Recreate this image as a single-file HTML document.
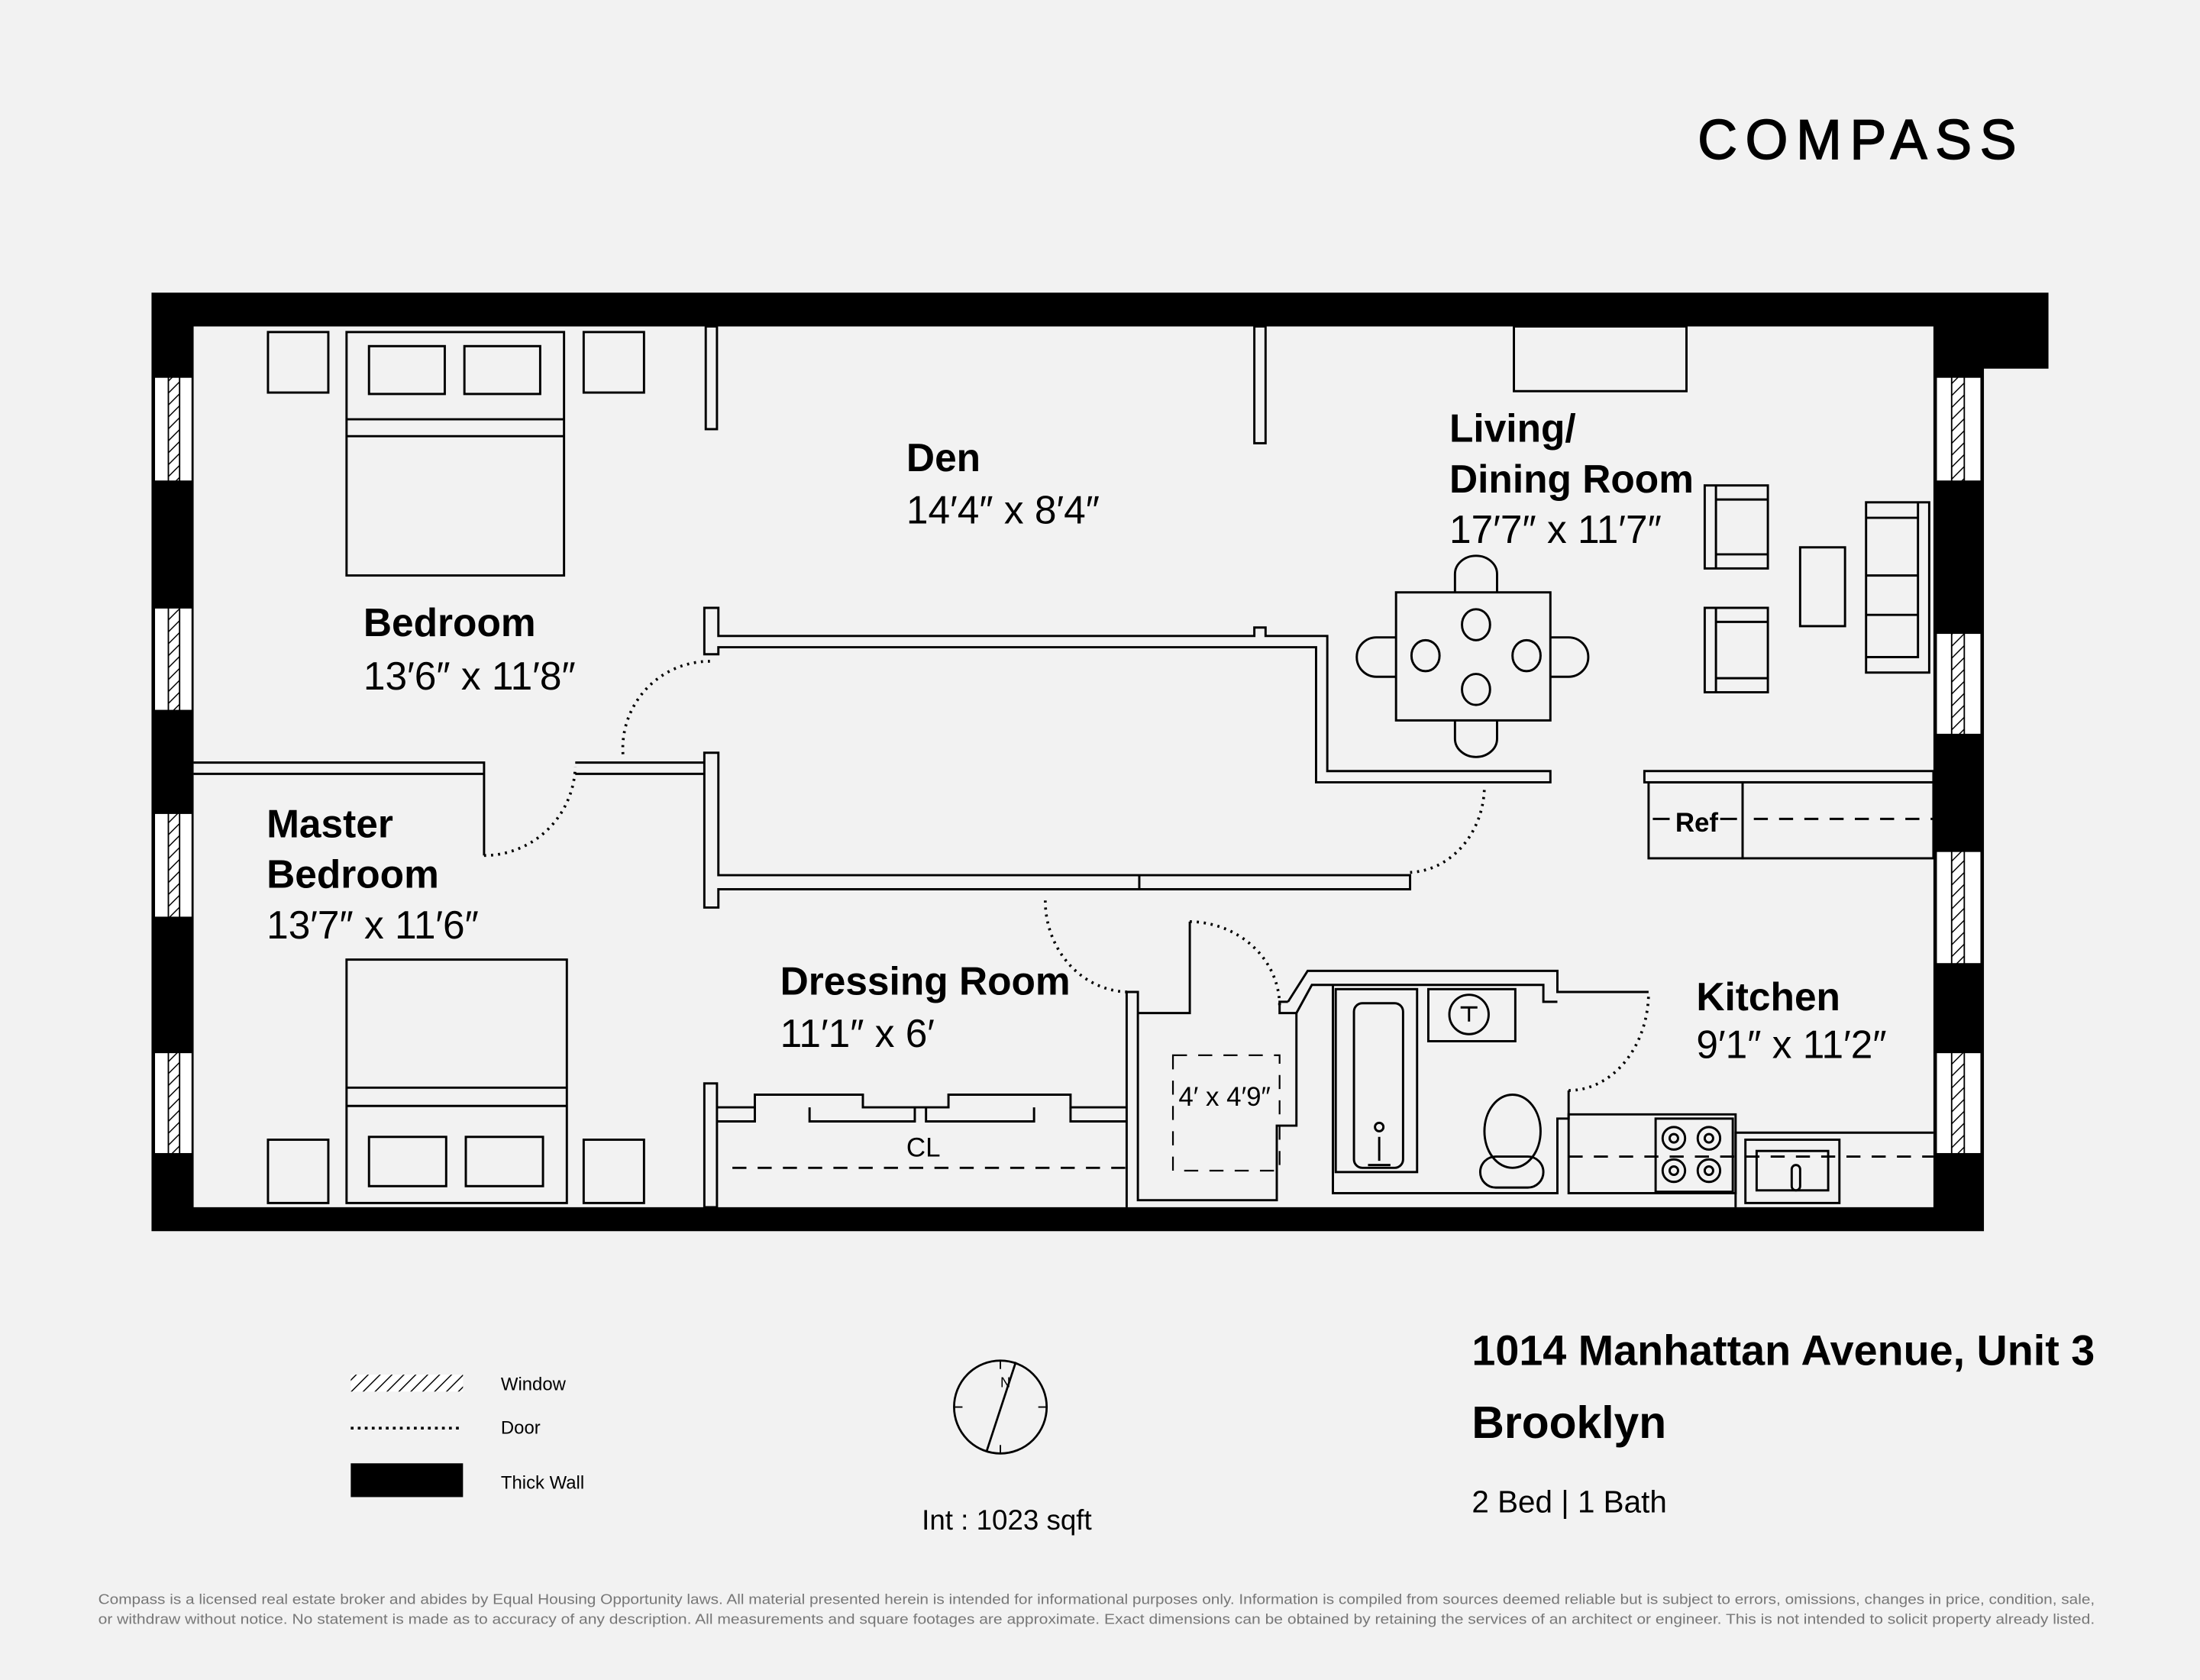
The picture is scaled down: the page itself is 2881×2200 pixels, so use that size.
<!DOCTYPE html>
<html><head><meta charset="utf-8"><style>
html,body{margin:0;padding:0;background:#f2f2f2;}
svg{display:block;}
text{font-family:"Liberation Sans",sans-serif;fill:#000;}
</style></head><body>
<svg width="2881" height="2200" viewBox="0 0 1568 1194" preserveAspectRatio="none" xmlns="http://www.w3.org/2000/svg">
<defs>
<pattern id="h" width="6" height="6" patternUnits="userSpaceOnUse" patternTransform="rotate(45)">
<rect width="6" height="6" fill="#fff"/><line x1="0" y1="0" x2="0" y2="6" stroke="#000" stroke-width="1.6"/></pattern>
</defs>
<rect width="1568" height="1194" fill="#f2f2f2"/>
<text x="1210" y="113" font-size="40" letter-spacing="6" stroke="#000" stroke-width="0.9" textLength="233" lengthAdjust="spacingAndGlyphs">COMPASS</text>

<!-- outer walls -->
<path d="M108 208 H1460 V262 H1414 V875 H108 Z M138 232 V858 H1378 V232 Z" fill="#000" fill-rule="evenodd"/>
<g stroke="#000" stroke-width="1">
<g fill="#fff">
<rect x="110" y="268" width="27" height="74"/><rect x="110" y="432" width="27" height="73"/>
<rect x="110" y="578" width="27" height="74"/><rect x="110" y="748" width="27" height="72"/>
<rect x="1380" y="268" width="32" height="74"/><rect x="1380" y="450" width="32" height="72"/>
<rect x="1380" y="605" width="32" height="80"/><rect x="1380" y="748" width="32" height="72"/>
</g>
<g fill="url(#h)">
<rect x="120" y="268" width="8" height="74"/><rect x="120" y="432" width="8" height="73"/>
<rect x="120" y="578" width="8" height="74"/><rect x="120" y="748" width="8" height="72"/>
<rect x="1391" y="268" width="9" height="74"/><rect x="1391" y="450" width="9" height="72"/>
<rect x="1391" y="605" width="9" height="80"/><rect x="1391" y="748" width="9" height="72"/>
</g>
</g>

<g fill="none" stroke="#000" stroke-width="1.6">
<rect x="503" y="232" width="8" height="73"/><rect x="894" y="232" width="8" height="83"/>
<rect x="1079" y="232" width="123" height="46"/>
<rect x="191" y="236" width="43" height="43"/><rect x="416" y="236" width="43" height="43"/>
<rect x="247" y="236" width="155" height="173"/><line x1="247" y1="298" x2="402" y2="298"/><line x1="247" y1="310" x2="402" y2="310"/>
<rect x="263" y="246" width="54" height="34"/><rect x="331" y="246" width="54" height="34"/>
<rect x="191" y="810" width="43" height="45"/><rect x="416" y="810" width="43" height="45"/>
<rect x="247" y="682" width="157" height="173"/><line x1="247" y1="773" x2="404" y2="773"/><line x1="247" y1="786" x2="404" y2="786"/>
<rect x="263" y="808" width="55" height="35"/><rect x="332" y="808" width="55" height="35"/>
<path d="M502 432 H512 V452 H894 V446 H902 V452 H946 V548 H1105 V556 H938 V460 H512 V465 H502 Z"/>
<path d="M502 535 H512 V622 H1005 V632 H512 V645 H502 Z"/>
<path d="M138 542 H345 V608 M138 550 H345"/>
<path d="M410 542 H502 M410 550 H502"/>
<path d="M812 632 H1005 M812 622 V632"/>
<rect x="995" y="421" width="110" height="91"/>
<path d="M1037 421 V408 A15 13 0 0 1 1067 408 V421"/>
<path d="M1037 512 V525 A15 13 0 0 0 1067 525 V512"/>
<path d="M995 453 H981 A14 14 0 0 0 981 481 H995"/>
<path d="M1105 453 H1118 A14 14 0 0 1 1118 481 H1105"/>
<ellipse cx="1052" cy="444" rx="10" ry="11"/><ellipse cx="1016" cy="466" rx="10" ry="11"/>
<ellipse cx="1088" cy="466" rx="10" ry="11"/><ellipse cx="1052" cy="490" rx="10" ry="11"/>
<rect x="1215" y="345" width="45" height="59"/><line x1="1223" y1="345" x2="1223" y2="404"/><line x1="1223" y1="355" x2="1260" y2="355"/><line x1="1223" y1="394" x2="1260" y2="394"/>
<rect x="1215" y="432" width="45" height="60"/><line x1="1223" y1="432" x2="1223" y2="492"/><line x1="1223" y1="442" x2="1260" y2="442"/><line x1="1223" y1="482" x2="1260" y2="482"/>
<rect x="1283" y="389" width="32" height="56"/>
<rect x="1330" y="357" width="45" height="121"/><path d="M1330 467 H1367 V357 M1330 368 H1367 M1330 409 H1367 M1330 437 H1367"/>
<rect x="1172" y="548" width="206" height="8"/>
<rect x="1175" y="556" width="67" height="54"/><rect x="1242" y="556" width="136" height="54"/>
<line x1="1250" y1="582" x2="1378" y2="582" stroke-dasharray="10 8"/>
<line x1="1178" y1="582" x2="1190" y2="582"/><line x1="1226" y1="582" x2="1238" y2="582"/>
<rect x="502" y="770" width="9" height="88"/>
<path d="M511 787 H538 V778 H615 V787 H676 V778 H763 V787 H803"/>
<path d="M511 797 H538 V787 M577 787 V797 H652 V787 M660 787 V797 H737 V787 M763 787 V797 H803"/>
<line x1="522" y1="830" x2="803" y2="830" stroke-dasharray="10 8"/>
<path d="M803 858 V705 H811 V720 H848 V655 M811 720 V853 H910 V800 H924 V720 H912 V712 H918 M811 705 H803"/>
<rect x="836" y="750" width="76" height="82" stroke-dasharray="10 8" stroke-width="1.2"/>
<path d="M918 712 L932 690 H1110 V705 H1175 M924 720 L935 700 H1100 V712 H1110 M950 700 V848 H1110 V795 H1118 V775"/>
<rect x="965" y="713" width="35" height="117" rx="6"/>
<rect x="952" y="703" width="58" height="130"/>
<circle cx="983" cy="801" r="3"/><path d="M983 808 V825 M975 828 H991"/>
<rect x="1018" y="703" width="62" height="37"/><circle cx="1047" cy="721" r="14"/><path d="M1041 716 H1053 M1047 716 V726"/>
<ellipse cx="1078" cy="804" rx="20" ry="26"/><rect x="1055" y="822" width="45" height="22" rx="11"/>
<path d="M1118 848 V792 H1237 V848 Z"/>
<rect x="1180" y="795" width="55" height="52"/>
<circle cx="1193" cy="809" r="8"/><circle cx="1218" cy="809" r="8"/><circle cx="1193" cy="832" r="8"/><circle cx="1218" cy="832" r="8"/>
<circle cx="1193" cy="809" r="3"/><circle cx="1218" cy="809" r="3"/><circle cx="1193" cy="832" r="3"/><circle cx="1218" cy="832" r="3"/>
<path d="M1237 858 V805 H1378"/>
<rect x="1244" y="810" width="67" height="45"/><rect x="1252" y="818" width="51" height="28"/>
<line x1="1118" y1="822" x2="1378" y2="822" stroke-dasharray="10 8"/>
<rect x="1277" y="828" width="6" height="18" rx="3"/>
</g>
<g fill="none" stroke="#000" stroke-width="2" stroke-dasharray="1.5 3.5">
<path d="M444 536 A62 62 0 0 1 506 470"/>
<path d="M345 608 A65 65 0 0 0 410 545"/>
<path d="M1005 620 A55 62 0 0 0 1058 558"/>
<path d="M745 640 A60 65 0 0 0 805 705"/>
<path d="M848 655 A65 60 0 0 1 912 715"/>
<path d="M1118 775 A57 70 0 0 0 1175 705"/>
</g>

<g font-size="28">
<text x="259" y="452" font-weight="bold">Bedroom</text><text x="259" y="490">13′6″ x 11′8″</text>
<text x="646" y="335" font-weight="bold">Den</text><text x="646" y="372">14′4″ x 8′4″</text>
<text x="1033" y="314" font-weight="bold">Living/</text><text x="1033" y="350" font-weight="bold">Dining Room</text><text x="1033" y="386">17′7″ x 11′7″</text>
<text x="190" y="595" font-weight="bold">Master</text><text x="190" y="631" font-weight="bold">Bedroom</text><text x="190" y="667">13′7″ x 11′6″</text>
<text x="556" y="707" font-weight="bold">Dressing Room</text><text x="556" y="744">11′1″ x 6′</text>
<text x="1209" y="718" font-weight="bold">Kitchen</text><text x="1209" y="752">9′1″ x 11′2″</text>
</g>
<text x="1194" y="591" font-size="19" font-weight="bold">Ref</text>
<text x="646" y="822" font-size="19">CL</text>
<text x="840" y="786" font-size="19">4′ x 4′9″</text>

<rect x="250" y="977" width="80" height="12" fill="url(#h)"/>
<line x1="250" y1="1015" x2="330" y2="1015" stroke="#000" stroke-width="2" stroke-dasharray="2 3"/>
<rect x="250" y="1040" width="80" height="24" fill="#000"/>
<text x="357" y="988" font-size="13">Window</text>
<text x="357" y="1019" font-size="13">Door</text>
<text x="357" y="1058" font-size="13">Thick Wall</text>
<circle cx="713" cy="1000" r="33" fill="none" stroke="#000" stroke-width="1.5"/>
<path d="M724 968 L703 1032" stroke="#000" stroke-width="1.5"/>
<path d="M680 1000 H686 M740 1000 H746 M713 967 V973 M713 1027 V1033" stroke="#000"/>
<text x="713" y="986" font-size="10">N</text>
<text x="657" y="1087" font-size="20">Int : 1023 sqft</text>
<text x="1049" y="970" font-size="30" font-weight="bold" textLength="444" lengthAdjust="spacingAndGlyphs">1014 Manhattan Avenue, Unit 3</text>
<text x="1049" y="1022" font-size="32" font-weight="bold">Brooklyn</text>
<text x="1049" y="1075" font-size="22">2 Bed | 1 Bath</text>
<g font-size="10">
<text x="70" y="1140" style="fill:#777" textLength="1423" lengthAdjust="spacingAndGlyphs">Compass is a licensed real estate broker and abides by Equal Housing Opportunity laws. All material presented herein is intended for informational purposes only. Information is compiled from sources deemed reliable but is subject to errors, omissions, changes in price, condition, sale,</text>
<text x="70" y="1154" style="fill:#777" textLength="1423" lengthAdjust="spacingAndGlyphs">or withdraw without notice. No statement is made as to accuracy of any description. All measurements and square footages are approximate. Exact dimensions can be obtained by retaining the services of an architect or engineer. This is not intended to solicit property already listed.</text>
</g>
</svg>
</body></html>
